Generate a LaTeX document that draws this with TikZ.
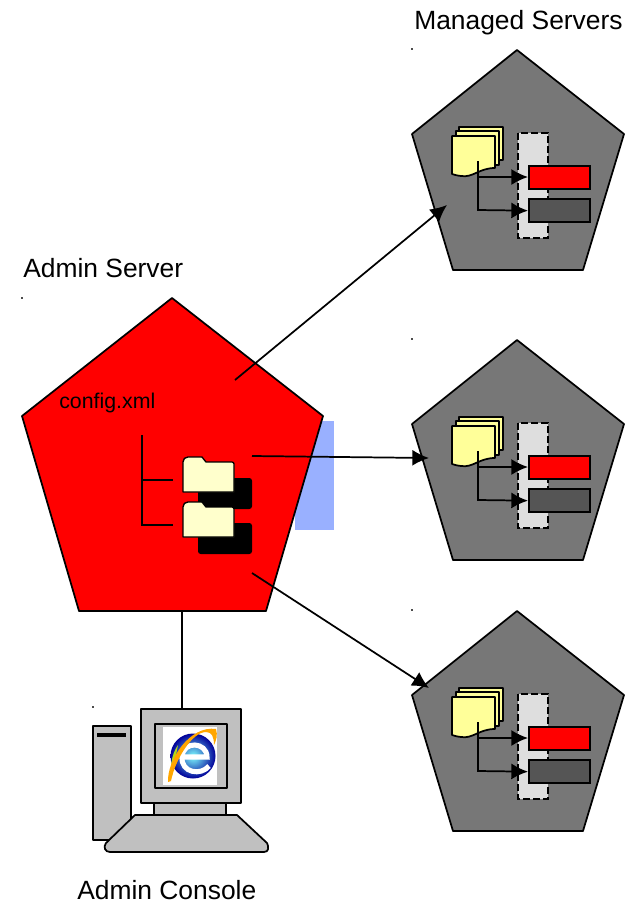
\documentclass[tikz,border=0pt]{standalone}
\usepackage{fontspec}
\setmainfont{Liberation Sans}
\usepackage{tikz}
\usetikzlibrary{arrows.meta, positioning, calc}
\definecolor{myred}{RGB}{255,0,0}
\definecolor{mygray}{RGB}{119,119,119}
\definecolor{mydark}{RGB}{85,85,85}
\definecolor{myblue}{RGB}{153,176,255}
\definecolor{mysilver}{RGB}{192,192,192}
\definecolor{mydoc}{RGB}{255,255,153}
\definecolor{myfolder}{RGB}{255,255,204}

\begin{document}
\begin{tikzpicture}[
    x=0.75pt, y=-0.75pt,
    outline/.style={draw=black, line width=1.3pt, line join=round},
    title_text/.style={font=\fontsize{19.8}{22}\selectfont, inner sep=0pt, anchor=west},
    queue_bar/.style={draw=black, line width=1.5pt, minimum width=46pt, minimum height=17.5pt, inner sep=0pt, anchor=north west},
    tree_line/.style={line width=1.3pt},
    arrow/.style={-{Latex[length=12.5pt, width=12pt]}, line width=1.3pt},
    speck/.style={fill=black!70, minimum size=1pt, inner sep=0pt},
    pics/managed/.style={code={
        % pentagon body, drawn from its apex
        \draw[outline, fill=mygray] (0,0) -- (107,84) -- (66,220) -- (-64,220) -- (-105,84) -- cycle;
        % dashed group behind the bars
        \draw[fill=black!13, draw=black, dash pattern=on 5pt off 2.5pt, line width=1.1pt] (1,83) rectangle (31,188);
        % document stack
        \draw[outline, fill=mydoc] (-58,77) rectangle (-14,110);
        \draw[outline, fill=mydoc] (-61,81) rectangle (-18,115);
        \draw[outline, fill=mydoc] (-65,86) -- (-22,86) -- (-22,118)
            .. controls (-38,118) and (-44,128) .. (-56,126) .. controls (-60,125.5) and (-62,125) .. (-65,124) -- cycle;
        \coordinate (-doc) at (-39,111);
        \coordinate (-split) at (-39,127);
        \coordinate (-corner) at (-39,160);
        % bars
        \node[queue_bar, fill=myred] (-red) at (11,115) {};
        \node[queue_bar, fill=mydark] (-dark) at (11,148) {};
        \draw[arrow] (-doc) -- (-corner) -- (-dark.west);
        \draw[arrow] (-split) -- (-split -| -red.west);
        \node[speck] (-tick) at (-105,-1) {};
    }},
    pics/folder/.style={code={
        \fill[black, rounded corners=2pt] (15,21) -- (69,21) -- (69,52) -- (15,52) -- cycle;
        \draw[outline, fill=myfolder, line width=1pt] (0,5) .. controls (0,2) and (2,0) .. (5,0) -- (19,0) -- (23,5) -- (49,5)
            .. controls (50,5) and (51,6) .. (51,7) -- (51,35) -- (0,35) -- cycle;
    }}
]
    \useasboundingbox (0,0) rectangle (634,901);

    % Blue strip behind the admin server
    \fill[myblue] (295,421) rectangle (334,530);

    % Admin server
    \draw[outline, fill=myred] (172,298) -- (323,416) -- (266,611) -- (79,611) -- (22,416) -- cycle;
    \node[speck] (admin_tick) at (22,298) {};
    \coordinate (admin_top) at (235,380);
    \coordinate (admin_mid) at (252,456);
    \coordinate (admin_low) at (252,573);
    \coordinate (admin_base) at (182,611);

    \node[inner sep=0pt, anchor=west, font=\fontsize{16}{18}\selectfont] (config) at (59,403) {config.xml};

    % Config tree
    \coordinate (tree_top) at (142,435);
    \coordinate (tree_first) at (142,480);
    \coordinate (tree_last) at (142,525);
    \coordinate (leaf_first) at (173,480);
    \coordinate (leaf_last) at (173,525);
    \draw[tree_line] (tree_top) -- (tree_last) -- (leaf_last);
    \draw[tree_line] (tree_first) -- (leaf_first);
    \pic (folder_one) at (183,457) {folder};
    \pic (folder_two) at (183,502) {folder};

    % Managed servers
    \foreach \srv/\ypos in {top/50, mid/340, low/611} {
        \pic (\srv) at (517,\ypos) {managed};
    }

    \node[title_text] (admin_title) at (23,268) {Admin Server};
    \node[title_text] (managed_title) at (414,23) {Managed Servers};
    \node[title_text] (console_title) at (77,890) {Admin Console};

    % Arrows to the managed servers
    \coordinate (top_in) at (447,205);
    \coordinate (mid_in) at (429,458);
    \coordinate (low_in) at (429,688);
    \draw[arrow] (admin_top) -- (top_in);
    \draw[arrow] (admin_mid) -- (mid_in);
    \draw[arrow] (admin_low) -- (low_in);

    % Admin console
    \draw[outline, fill=mysilver] (93,726) rectangle (131,840);
    \fill[black] (97,733) rectangle (126,737);
    \draw[outline, fill=mysilver] (154,800) rectangle (226,818);
    \draw[outline, fill=mysilver] (135,815) -- (237,815) -- (267,843) .. controls (269,847) and (269,852) .. (264,852)
        -- (110,852) .. controls (105,852) and (103,847) .. (106,843) -- cycle;
    \node[outline, fill=mysilver, minimum width=75pt, minimum height=70.5pt, inner sep=0pt, anchor=north west] (monitor) at (140,708) {};
    \node[outline, fill=mysilver, minimum width=54pt, minimum height=48pt, inner sep=0pt, anchor=north west] (screen) at (154,723) {};
    \draw[tree_line] (admin_base) -- (monitor.north -| admin_base);
    \node[speck] (console_tick) at (93,707) {};

    % Browser logo
    \fill[white] (163,727) rectangle (217,785);
    \shade[inner color=cyan!50!white, outer color=blue!60!black] (193,756) circle [radius=22.5];
    \draw[white, line width=3.8pt] (182,757) -- (207,757) .. controls (207,742) and (183,740) .. (182,757)
        .. controls (181,773) and (201,776) .. (209,766);
    \fill[yellow!70!green] (178,745) .. controls (171,755) and (170,768) .. (172,776) .. controls (174,765) and (176,755) .. (178,745) -- cycle;
    \fill[orange!70!yellow] (168,782) .. controls (167,760) and (190,725) .. (216,729)
        .. controls (218,735) and (216,741) .. (214,745) .. controls (214,737) and (212,732) .. (206,732)
        .. controls (192,732) and (175,760) .. (171,781) -- cycle;
\end{tikzpicture}
\end{document}
